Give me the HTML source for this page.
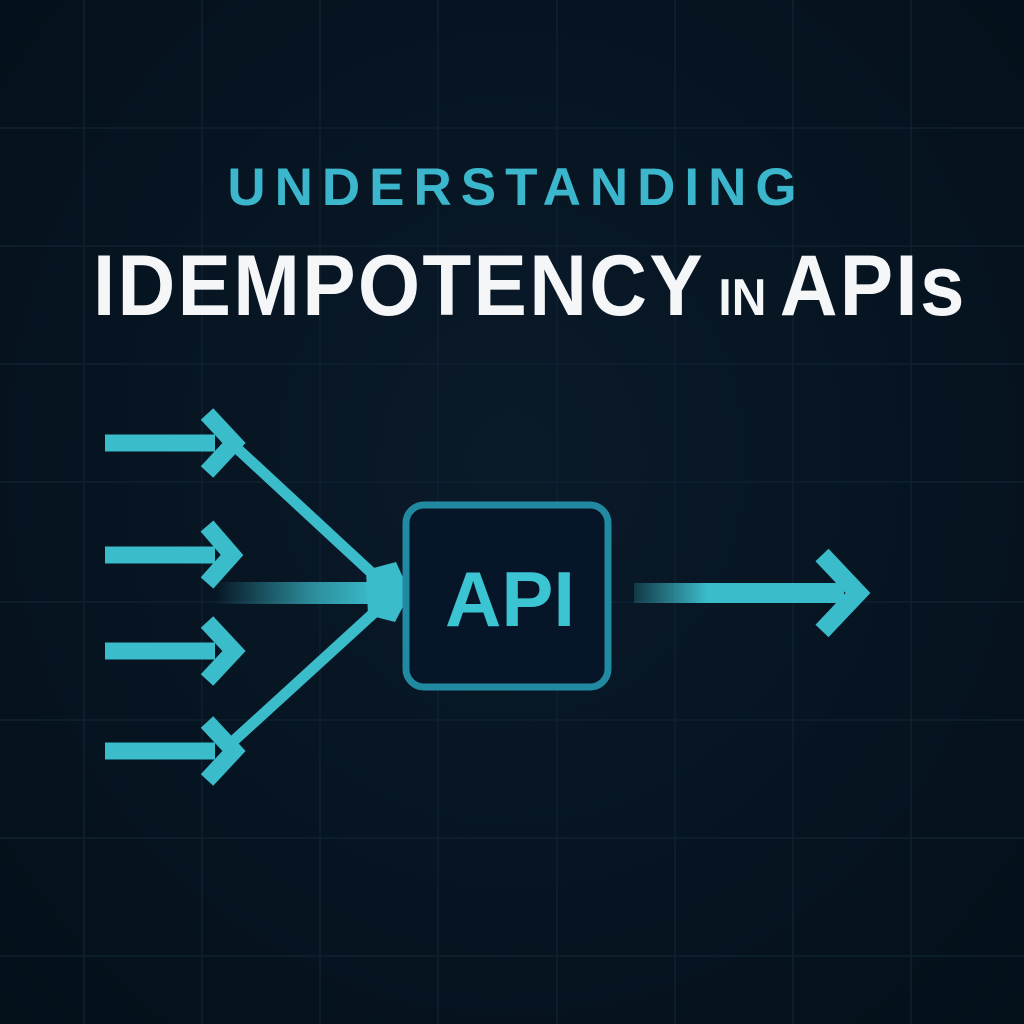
<!DOCTYPE html>
<html><head><style>
html,body{margin:0;padding:0;}
body{width:1024px;height:1024px;overflow:hidden;background:radial-gradient(ellipse at 50% 45%,#0b1a29 0%,#061421 60%,#04101a 100%);position:relative;font-family:"Liberation Sans",sans-serif;}
.t1{position:absolute;top:157px;left:0;width:1024px;text-align:center;color:#3bb6cc;font-weight:bold;font-size:53px;letter-spacing:9px;text-indent:9px;}
.t2{position:absolute;top:236px;left:93px;color:#f4f6f8;font-weight:bold;font-size:80px;letter-spacing:2.3px;white-space:nowrap;transform:scaleY(1.08);transform-origin:0 0;}
.t2 small{font-size:48px;letter-spacing:0;}
</style></head><body>
<svg width="1024" height="1024" style="position:absolute;left:0;top:0">
<defs>
<linearGradient id="g1" x1="0" x2="1"><stop offset="0" stop-color="#3bbccb" stop-opacity="0"/><stop offset="0.6" stop-color="#3bbccb" stop-opacity="0.7"/><stop offset="1" stop-color="#3bbccb"/></linearGradient>
<linearGradient id="g2" x1="0" x2="1"><stop offset="0" stop-color="#3bbccb" stop-opacity="0.2"/><stop offset="0.35" stop-color="#3bbccb"/><stop offset="1" stop-color="#3bbccb"/></linearGradient>
</defs>
<g stroke="#0e2131" stroke-width="1.5">
<line x1="84" y1="0" x2="84" y2="1024"/><line x1="202" y1="0" x2="202" y2="1024"/><line x1="320" y1="0" x2="320" y2="1024"/><line x1="438" y1="0" x2="438" y2="1024"/><line x1="557" y1="0" x2="557" y2="1024"/><line x1="675" y1="0" x2="675" y2="1024"/><line x1="793" y1="0" x2="793" y2="1024"/><line x1="911" y1="0" x2="911" y2="1024"/>
<line x1="0" y1="128" x2="1024" y2="128"/><line x1="0" y1="246" x2="1024" y2="246"/><line x1="0" y1="364" x2="1024" y2="364"/><line x1="0" y1="482" x2="1024" y2="482"/><line x1="0" y1="602" x2="1024" y2="602"/><line x1="0" y1="720" x2="1024" y2="720"/><line x1="0" y1="838" x2="1024" y2="838"/><line x1="0" y1="956" x2="1024" y2="956"/>
</g>
<g fill="none" stroke="#3bbccb" stroke-width="17">
<line x1="105" y1="443" x2="215" y2="443"/>
<line x1="105" y1="555" x2="215" y2="555"/>
<line x1="105" y1="651" x2="215" y2="651"/>
<line x1="105" y1="751" x2="215" y2="751"/>
<polyline points="207,414 234,443 207,472"/>
<polyline points="207,526 232,555 207,583"/>
<polyline points="207,622 234,651 207,680"/>
<polyline points="207,722 234,751 207,780"/>
<line x1="228" y1="440" x2="388" y2="588" stroke-width="11"/>
<line x1="228" y1="746" x2="388" y2="600" stroke-width="11"/>
</g>
<rect x="215" y="582" width="160" height="22" fill="url(#g1)"/>
<polygon points="366,570 396,562 410,593 395,622 368,615" fill="#3bbccb"/>
<rect x="406" y="505" width="202" height="182" rx="18" fill="#061628" stroke="#2189a0" stroke-width="7"/>
<text x="510" y="626" text-anchor="middle" font-family="Liberation Sans,sans-serif" font-weight="bold" font-size="78" fill="#3bc4d2">API</text>
<rect x="634" y="583" width="210" height="20" fill="url(#g2)"/>
<polyline points="822,555 858,593 822,631" fill="none" stroke="#3bbccb" stroke-width="18"/>
</svg>
<div class="t1">UNDERSTANDING</div>
<div class="t2">IDEMPOTENCY<small> IN </small>APIs</div>
</body></html>
